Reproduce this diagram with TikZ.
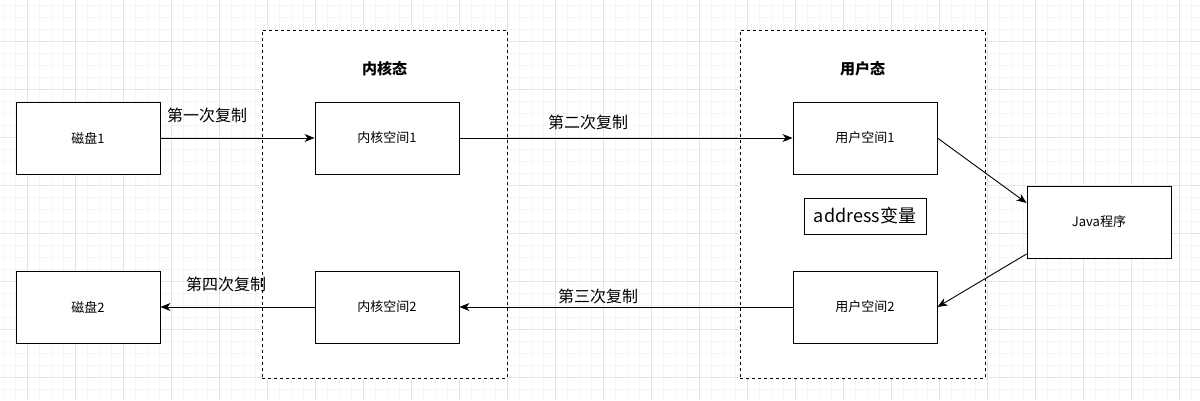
\documentclass[tikz,border=0pt]{standalone}
\usepackage{fontspec}
\setmainfont{Noto Sans CJK SC}
\usetikzlibrary{arrows.meta,positioning}
\newcommand{\widthbox}{144pt}
\newcommand{\heightbox}{72pt}
\tikzset{
    common/.style={draw, rectangle, fill=white, line width=0.9pt, inner sep=0pt},
    space/.style={common, minimum width=\widthbox, minimum height=\heightbox, font=\fontsize{13}{15}\selectfont},
    varbox/.style={common, minimum width=122pt, minimum height=36pt, font=\fontsize{18}{21}\selectfont},
    mode/.style={draw, dashed, fill=white, line width=0.8pt, minimum width=245pt, minimum height=348pt},
    title/.style={font=\fontsize{15}{18}\selectfont\bfseries},
    copy/.style={font=\fontsize{16}{19}\selectfont},
    flow/.style={line width=0.9pt, -{Stealth[length=10pt,width=8pt,inset=3pt]}},
    gridminor/.style={draw=black!4, line width=0.8pt},
    gridmajor/.style={draw=black!11, line width=0.8pt}
}

\begin{document}
\begin{tikzpicture}[x=1pt, y=-1pt]
    \useasboundingbox (0,0) rectangle (1200,400);
    % background grid
    \foreach \x in {3.3,15.3,...,1200} \draw[gridminor] (\x,0) -- (\x,400);
    \foreach \y in {5.3,17.3,...,400} \draw[gridminor] (0,\y) -- (1200,\y);
    \foreach \x in {27.3,75.3,...,1200} \draw[gridmajor] (\x,0) -- (\x,400);
    \foreach \y in {41.3,89.3,...,400} \draw[gridmajor] (0,\y) -- (1200,\y);

    % dashed areas
    \node[mode] (kernel) at (384.5,204) {};
    \node[mode] (user) at (862.5,204) {};
    \node[title] (kerneltitle) at (384.5,69) {内核态};
    \node[title] (usertitle) at (862.5,69) {用户态};

    % boxes
    \node[space] (disk1) at (88,138) {磁盘1};
    \node[space] (kernel1) at (387,138) {内核空间1};
    \node[space] (user1) at (865,138) {用户空间1};
    \node[space] (java) at (1099,222) {Java程序};
    \node[space] (user2) at (865,307) {用户空间2};
    \node[space] (kernel2) at (387,307) {内核空间2};
    \node[space] (disk2) at (88,307) {磁盘2};
    \node[varbox] (address) at (865,216) {address变量};

    % copies
    \draw[flow] (disk1) -- (kernel1);
    \draw[flow] (kernel1) -- (user1);
    \draw[flow] (user1.east) -- ([yshift=19pt]java.west);
    \draw[flow] ([yshift=-32pt]java.west) -- (user2.east);
    \draw[flow] (user2) -- (kernel2);
    \draw[flow] (kernel2) -- (disk2);

    \node[copy] (copy1) at (207,115) {第一次复制};
    \node[copy] (copy2) at (588,122) {第二次复制};
    \node[copy] (copy3) at (598,296) {第三次复制};
    \node[copy] (copy4) at (226,284) {第四次复制};
\end{tikzpicture}
\end{document}
